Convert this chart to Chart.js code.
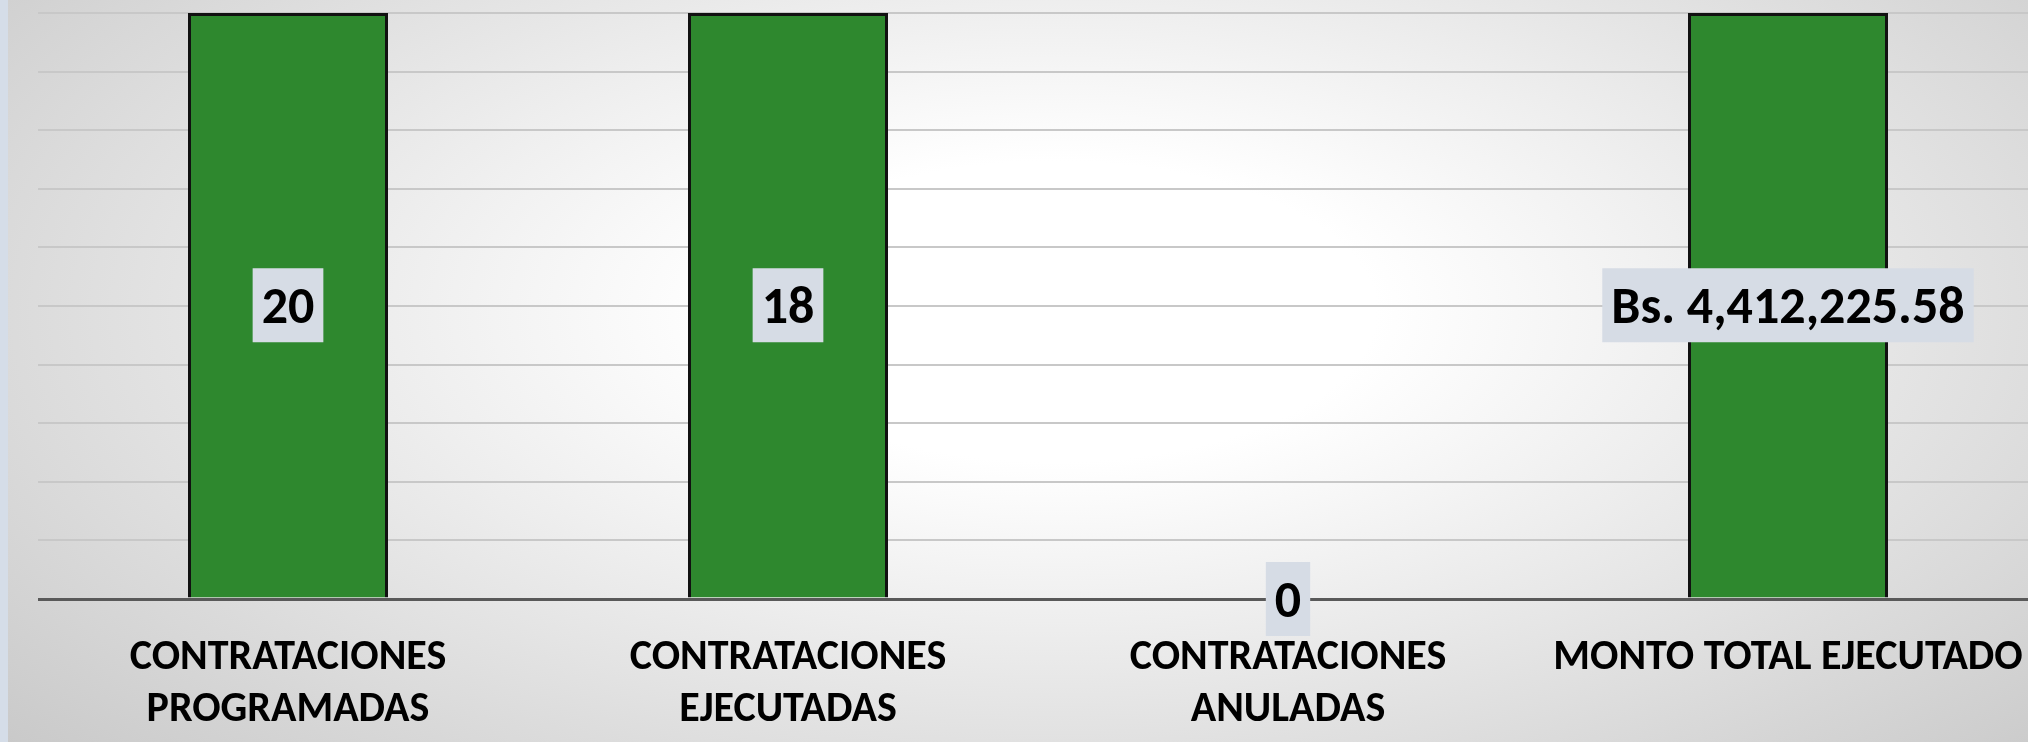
<!DOCTYPE html>
<html>
<head>
<meta charset="utf-8">
<script src="https://cdn.jsdelivr.net/npm/chart.js@4.4.1/dist/chart.umd.min.js"></script>
<style>
  html, body { margin: 0; padding: 0; overflow: hidden; }
  body {
    width: 2028px; height: 742px;
    background: radial-gradient(ellipse 72% 92% at 52% 42%, #ffffff 0%, #ffffff 22%, #c6c6c6 100%);
  }
  #strip { position: absolute; left: 0; top: 0; width: 8px; height: 742px; background: #d5dde8; }
  #wrap { position: absolute; left: 0; top: 0; width: 2040px; height: 742px; }
</style>
</head>
<body>
<div id="strip"></div>
<div id="wrap"><canvas id="chart-canvas"></canvas></div>
<script>
// chart data
const categories = [
  ['CONTRATACIONES', 'PROGRAMADAS'],
  ['CONTRATACIONES', 'EJECUTADAS'],
  ['CONTRATACIONES', 'ANULADAS'],
  'MONTO TOTAL EJECUTADO'
];
const values = [20, 18, 0, 4412225.58];
const valuePrefix = ['', '', '', 'Bs. '];
const valueDecimals = [0, 0, 0, 2];
const axisMax = 10;

const FONT = "Carlito, Calibri, Lato, sans-serif";

function fmt(i) {
  const v = values[i].toLocaleString('en-US', {
    minimumFractionDigits: valueDecimals[i],
    maximumFractionDigits: valueDecimals[i]
  });
  return valuePrefix[i] + v;
}

// bars taller than the axis are cut at the top of the plot, border included
const clampBars = {
  id: 'clampBars',
  beforeDatasetsDraw(chart) {
    const top = chart.chartArea.top;
    chart.getDatasetMeta(0).data.forEach(el => {
      if (el.y < top) el.y = top;
    });
  }
};

// value labels in a box, centred in the visible part of the bar
const boxLabels = {
  id: 'boxLabels',
  afterDatasetsDraw(chart) {
    const ctx = chart.ctx;
    ctx.save();
    ctx.font = 'bold 52px ' + FONT;
    ctx.textAlign = 'center';
    ctx.textBaseline = 'middle';
    chart.getDatasetMeta(0).data.forEach((el, i) => {
      const txt = fmt(i);
      const cy = (el.y + el.base) / 2;
      const w = ctx.measureText(txt).width + 18;
      const h = 74;
      ctx.fillStyle = '#d6dce5';
      ctx.fillRect(el.x - w / 2, cy - h / 2, w, h);
      ctx.fillStyle = '#000000';
      ctx.fillText(txt, el.x, cy + 5);
    });
    ctx.restore();
  }
};

const ctx = document.getElementById('chart-canvas').getContext('2d');

new Chart(ctx, {
  type: 'bar',
  data: {
    labels: categories,
    datasets: [{
      data: values,
      backgroundColor: '#2e882e',
      borderColor: '#111111',
      borderWidth: 3,
      barPercentage: 0.4,
      categoryPercentage: 1
    }]
  },
  options: {
    responsive: true,
    maintainAspectRatio: false,
    animation: false,
    layout: { padding: { left: 38, top: 13, right: 2, bottom: 0 } },
    plugins: {
      legend: { display: false },
      tooltip: { enabled: false }
    },
    scales: {
      x: {
        grid: { display: false },
        border: { display: false },
        ticks: {
          color: '#000000',
          font: { family: FONT, size: 42, weight: 'bold', lineHeight: 1.24 },
          padding: 25,
          maxRotation: 0,
          autoSkip: false
        },
        afterFit(scale) {
          scale.height = 143;
          scale.paddingLeft = 0;
          scale.paddingRight = 0;
        }
      },
      y: {
        min: 0,
        max: axisMax,
        ticks: { display: false, stepSize: 1 },
        border: { display: false },
        grid: {
          drawTicks: false,
          color: c => c.tick.value === 0 ? '#595959' : '#c8c8c8',
          lineWidth: c => c.tick.value === 0 ? 3 : 2
        },
        afterFit(scale) { scale.width = 0; }
      }
    }
  },
  plugins: [clampBars, boxLabels]
});
</script>
</body>
</html>
